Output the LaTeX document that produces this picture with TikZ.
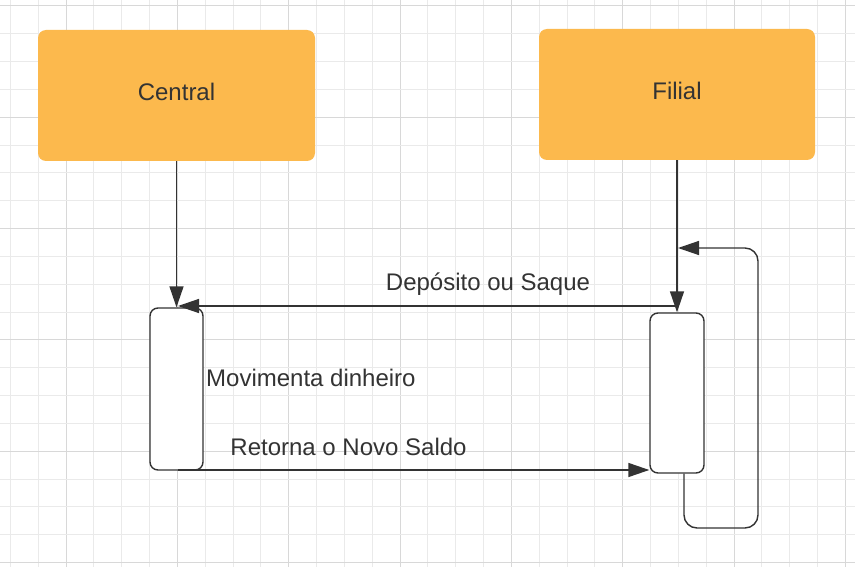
\documentclass[tikz,border=0pt]{standalone}
\usepackage{fontspec}
\setmainfont{Liberation Sans}
\usetikzlibrary{arrows.meta}
\definecolor{boxorange}{HTML}{FCB94D}
\definecolor{ink}{HTML}{333333}
\definecolor{gridminor}{HTML}{EAEAEA}
\definecolor{gridmajor}{HTML}{D8D8D8}
\tikzset{
  actor/.style={fill=boxorange, draw=none, rounded corners=8pt, inner sep=0pt,
    text=ink, font=\fontsize{24}{28}\selectfont},
  activation/.style={fill=white, draw=ink, line width=1.4pt, rounded corners=8pt, inner sep=0pt},
  msg/.style={draw=ink, line width=1.4pt, -{Triangle[length=21pt,width=14pt]}},
  lbl/.style={text=ink, inner sep=0pt, font=\fontsize{24}{28}\selectfont},
}
\begin{document}
\begin{tikzpicture}[x=1pt, y=-1pt]
  \useasboundingbox (0,0) rectangle (855,567);
  \fill[white] (0,0) rectangle (855,567);
  % background grid, every fourth line darker
  \foreach \k in {0,...,30} {
    \pgfmathsetmacro{\gx}{10.5+27.83*\k}
    \pgfmathtruncatemacro{\m}{mod(\k,4)}
    \ifnum\m=2
      \draw[gridmajor, line width=1pt] (\gx,0) -- (\gx,567);
    \else
      \draw[gridminor, line width=1pt] (\gx,0) -- (\gx,567);
    \fi
  }
  \foreach \k in {0,...,20} {
    \pgfmathsetmacro{\gy}{6+27.83*\k}
    \pgfmathtruncatemacro{\m}{mod(\k,4)}
    \ifnum\m=0
      \draw[gridmajor, line width=1pt] (0,\gy) -- (855,\gy);
    \else
      \draw[gridminor, line width=1pt] (0,\gy) -- (855,\gy);
    \fi
  }

  % participants
  \node[actor, minimum width=277pt, minimum height=131pt] (central) at (176.5,95.5) {};
  \node[lbl] at (176.5,92) {Central};
  \node[actor, minimum width=276pt, minimum height=131pt] (filial) at (677,94.5) {};
  \node[lbl] at (677,91) {Filial};

  % activation bars
  \node[activation, minimum width=53pt, minimum height=162pt] (cact) at (176.5,389) {};
  \node[activation, minimum width=54pt, minimum height=160pt] (fact) at (677,393) {};

  % lifelines
  \draw[msg] (central.south) -- (central.south |- cact.north);
  \draw[msg] (filial.south) -- (filial.south |- fact.north);

  % messages
  \coordinate (dep) at (677,306);
  \coordinate (depend) at (178,306);
  \draw[msg] (dep) -- (depend);
  \node[lbl] at (488,284) {Depósito ou Saque};

  \node[lbl, anchor=west] at (206,378) {Movimenta dinheiro};

  \coordinate (ret) at (178,470);
  \draw[msg] (ret) -- (fact.west |- ret);
  \node[lbl] at (348.5,447) {Retorna o Novo Saldo};

  % self call on the branch lifeline
  \coordinate (loopin) at (678,248);
  \draw[msg, rounded corners=13pt] ([xshift=7pt]fact.south) -- (684,528) -- (758,528) -- (758,248) -- (loopin);
\end{tikzpicture}
\end{document}
